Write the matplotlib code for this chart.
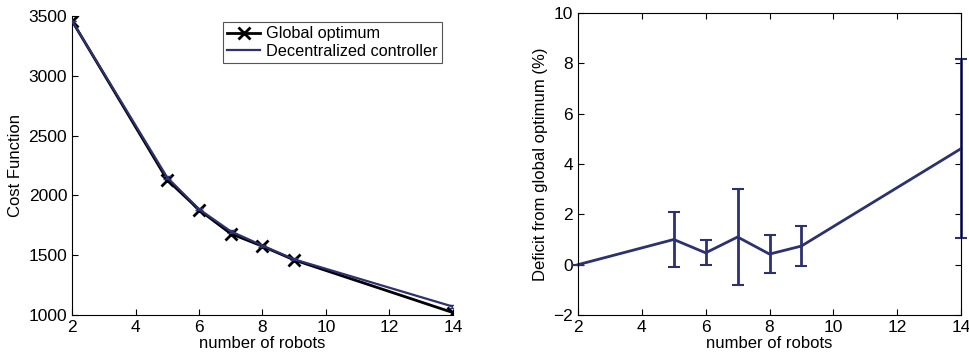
import matplotlib
matplotlib.use("Agg")
import matplotlib.pyplot as plt
from matplotlib.lines import Line2D

plt.rcParams['font.family'] = ['Liberation Sans', 'DejaVu Sans']

# Cost function vs. team size
robots = [2, 5, 6, 7, 8, 9, 14]
cost_global = [3460, 2130, 1880, 1680, 1575, 1460, 1020]
cost_decentral = [3460, 2150, 1885, 1700, 1580, 1465, 1070]
cost_decentral_err = [0, 10, 8, 12, 8, 8, 15]

# Deficit of the decentralized controller (%)
deficit = [0.0, 1.0, 0.47, 1.1, 0.42, 0.74, 4.61]
deficit_err = [0.0, 1.1, 0.5, 1.9, 0.75, 0.78, 3.55]

navy = '#2c3170'
W, H = 969, 356
fig = plt.figure(figsize=(W / 100, H / 100), dpi=100)

ax1 = fig.add_axes([72 / W, 1 - 315 / H, (453 - 72) / W, (315 - 16) / H])
ax1.plot(robots, cost_global, color='black', lw=2, marker='x', ms=9, mew=2, zorder=3)
ax1.errorbar(robots, cost_decentral, yerr=cost_decentral_err, color=navy, lw=1.6,
             capsize=3, zorder=4)
ax1.set_xlim(2, 14)
ax1.set_ylim(1000, 3500)
ax1.set_xticks([2, 4, 6, 8, 10, 12, 14])
ax1.set_yticks([1000, 1500, 2000, 2500, 3000, 3500])
ax1.spines['top'].set_visible(False)
ax1.spines['right'].set_visible(False)
ax1.tick_params(direction='in', labelsize=12.5, length=4)
ax1.set_xlabel('number of robots', fontsize=12, labelpad=1)
ax1.set_ylabel('Cost Function', fontsize=12)
handles = [Line2D([], [], color='black', lw=2, marker='x', ms=9, mew=2),
           Line2D([], [], color=navy, lw=1.6)]
leg = ax1.legend(handles, ['Global optimum', 'Decentralized controller'],
                 loc='upper right', bbox_to_anchor=(0.98, 0.99), fontsize=11.7,
                 fancybox=False, framealpha=1, edgecolor='#555555',
                 handlelength=2.0, borderpad=0.25, labelspacing=0.15, handletextpad=0.4,
                 borderaxespad=0.2)
leg.get_frame().set_linewidth(0.8)

ax2 = fig.add_axes([578 / W, 1 - 315 / H, (961 - 578) / W, (315 - 13) / H])
ax2.errorbar(robots, deficit, yerr=deficit_err, color=navy, lw=2, elinewidth=2,
             capsize=4, capthick=1.5, clip_on=False)
ax2.set_xlim(2, 14)
ax2.set_ylim(-2, 10)
ax2.set_xticks([2, 4, 6, 8, 10, 12, 14])
ax2.set_yticks([-2, 0, 2, 4, 6, 8, 10])
ax2.tick_params(direction='in', labelsize=12.5, length=4, top=True, right=True)
ax2.set_xlabel('number of robots', fontsize=12, labelpad=1)
ax2.set_ylabel('Deficit from global optimum (%)', fontsize=12)

fig.savefig('out.png', dpi=100)
